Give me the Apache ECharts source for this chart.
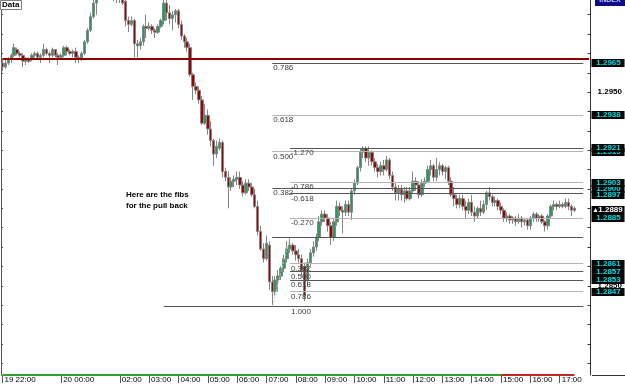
<!DOCTYPE html>
<html>
<head>
<meta charset="utf-8">
<script src="https://cdn.jsdelivr.net/npm/echarts@6.0.0/dist/echarts.min.js"></script>
<style>
  html, body { margin: 0; padding: 0; background: #fff; }
  #main { width: 625px; height: 384px; }
</style>
</head>
<body>
<div id="main"></div>
<script>
// 6 minute bars, 19 22:00 -> 20 17:30
const opens = [
  1.2965,1.2963,1.2965,1.2967,1.2969,1.2972,1.2970,1.2969,1.2966,1.2967,
  1.2967,1.2969,1.2970,1.2968,1.2969,1.2972,1.2970,1.2969,1.2972,1.2969,
  1.2968,1.2969,1.2973,1.2971,1.2970,1.2971,1.2968,1.2967,1.2970,1.2976,
  1.2982,1.2989,1.2996,1.3001,1.3003,1.3000,1.3002,1.3001,1.3000,1.2999,
  1.3000,1.2999,1.2997,1.2987,1.2985,1.2987,1.2975,1.2974,1.2976,1.2984,
  1.2983,1.2984,1.2982,1.2981,1.2984,1.2987,1.2996,1.2991,1.2988,1.2990,
  1.2992,1.2985,1.2979,1.2976,1.2973,1.2959,1.2953,1.2951,1.2946,1.2934,
  1.2938,1.2931,1.2925,1.2918,1.2921,1.2924,1.2909,1.2906,1.2901,1.2904,
  1.2905,1.2906,1.2902,1.2898,1.2903,1.2901,1.2897,1.2891,1.2878,1.2869,
  1.2864,1.2871,1.2852,1.2847,1.2853,1.2855,1.2859,1.2864,1.2869,1.2871,
  1.2868,1.2866,1.2864,1.2860,1.2853,1.2862,1.2867,1.2870,1.2875,1.2883,
  1.2887,1.2885,1.2881,1.2875,1.2883,1.2891,1.2889,1.2888,1.2892,1.2888,
  1.2899,1.2903,1.2911,1.2919,1.2921,1.2916,1.2919,1.2914,1.2911,1.2909,
  1.2912,1.2910,1.2915,1.2907,1.2901,1.2898,1.2900,1.2897,1.2899,1.2895,
  1.2899,1.2904,1.2902,1.2897,1.2903,1.2904,1.2910,1.2912,1.2906,1.2910,
  1.2912,1.2909,1.2911,1.2904,1.2897,1.2895,1.2892,1.2895,1.2891,1.2889,
  1.2893,1.2888,1.2886,1.2890,1.2888,1.2892,1.2898,1.2896,1.2893,1.2894,
  1.2891,1.2889,1.2885,1.2886,1.2884,1.2885,1.2883,1.2885,1.2883,1.2884,
  1.2881,1.2885,1.2887,1.2885,1.2886,1.2883,1.2881,1.2886,1.2891,1.2892,
  1.2891,1.2892,1.2891,1.2893,1.2891,1.2890
]
const closes = [
  1.2963,1.2965,1.2967,1.2969,1.2973,1.2970,1.2969,1.2966,1.2967,1.2966,
  1.2969,1.2970,1.2968,1.2969,1.2972,1.2970,1.2969,1.2972,1.2969,1.2968,
  1.2969,1.2973,1.2971,1.2970,1.2971,1.2968,1.2967,1.2970,1.2976,1.2982,
  1.2989,1.2996,1.3001,1.3003,1.3000,1.3002,1.3001,1.3000,1.2999,1.3000,
  1.2999,1.2996,1.2987,1.2985,1.2987,1.2975,1.2974,1.2976,1.2984,1.2983,
  1.2984,1.2982,1.2981,1.2984,1.2987,1.2996,1.2991,1.2988,1.2990,1.2992,
  1.2985,1.2979,1.2976,1.2973,1.2959,1.2953,1.2951,1.2946,1.2934,1.2938,
  1.2931,1.2925,1.2918,1.2922,1.2924,1.2909,1.2906,1.2901,1.2904,1.2905,
  1.2906,1.2902,1.2898,1.2903,1.2901,1.2897,1.2891,1.2878,1.2869,1.2864,
  1.2872,1.2852,1.2847,1.2853,1.2855,1.2859,1.2864,1.2869,1.2871,1.2868,
  1.2866,1.2864,1.2858,1.2845,1.2862,1.2867,1.2870,1.2875,1.2883,1.2887,
  1.2885,1.2881,1.2875,1.2883,1.2891,1.2889,1.2888,1.2892,1.2888,1.2899,
  1.2903,1.2911,1.2919,1.2921,1.2916,1.2919,1.2914,1.2911,1.2909,1.2912,
  1.2910,1.2915,1.2907,1.2901,1.2898,1.2900,1.2897,1.2899,1.2895,1.2899,
  1.2904,1.2902,1.2897,1.2903,1.2904,1.2910,1.2912,1.2906,1.2910,1.2912,
  1.2909,1.2911,1.2904,1.2897,1.2895,1.2892,1.2895,1.2891,1.2889,1.2893,
  1.2888,1.2886,1.2890,1.2888,1.2892,1.2898,1.2896,1.2893,1.2894,1.2891,
  1.2889,1.2885,1.2886,1.2884,1.2885,1.2883,1.2885,1.2883,1.2884,1.2881,
  1.2885,1.2887,1.2885,1.2886,1.2883,1.2881,1.2886,1.2891,1.2892,1.2891,
  1.2892,1.2891,1.2893,1.2891,1.2889,1.2889
]
const highs = [
  1.2967,1.2967,1.2968,1.2970,1.2975,1.2973,1.2971,1.2970,1.2968,1.2968,
  1.2970,1.2971,1.2971,1.2970,1.2975,1.2973,1.2971,1.2973,1.2972,1.2970,
  1.2970,1.2974,1.2974,1.2972,1.2972,1.2973,1.2969,1.2971,1.2977,1.2983,
  1.2991,1.2998,1.3003,1.3006,1.3005,1.3004,1.3004,1.3003,1.3002,1.3001,
  1.3001,1.3000,1.2998,1.2989,1.2989,1.2988,1.2977,1.2978,1.2985,1.2990,
  1.2986,1.2985,1.2983,1.2985,1.2988,1.2999,1.29994,1.2995,1.2992,1.2993,
  1.2993,1.2987,1.2980,1.2978,1.2975,1.2960,1.2955,1.2953,1.2948,1.2944,
  1.2941,1.2935,1.2926,1.2925,1.2926,1.2925,1.2911,1.2909,1.2906,1.2907,
  1.2909,1.2909,1.2904,1.2905,1.2905,1.2903,1.2900,1.2894,1.2881,1.2872,
  1.2876,1.2873,1.2855,1.2855,1.2858,1.2860,1.2866,1.2873,1.2875,1.2872,
  1.2871,1.2869,1.2866,1.2862,1.2864,1.2869,1.2873,1.2877,1.2886,1.2889,
  1.2889,1.2887,1.2883,1.2885,1.2894,1.2893,1.2891,1.2894,1.2894,1.2900,
  1.2905,1.2912,1.2921,1.2922,1.2922,1.2922,1.2920,1.2916,1.2913,1.2914,
  1.2915,1.2917,1.2916,1.2909,1.2903,1.2902,1.2902,1.2901,1.2901,1.2901,
  1.2909,1.2906,1.2904,1.2905,1.2906,1.2912,1.2915,1.2913,1.2916,1.2914,
  1.2913,1.2912,1.2912,1.2906,1.2901,1.2897,1.2897,1.2897,1.2894,1.2895,
  1.2897,1.2891,1.2891,1.2894,1.2894,1.2899,1.2901,1.2897,1.2896,1.2895,
  1.2893,1.2890,1.2888,1.2887,1.2886,1.2886,1.2887,1.2886,1.2885,1.2885,
  1.2886,1.2888,1.2888,1.2887,1.2887,1.2884,1.2887,1.2892,1.2894,1.2893,
  1.2894,1.2893,1.2895,1.2895,1.2892,1.2891
]
const lows = [
  1.2961,1.2962,1.2964,1.2965,1.2968,1.2969,1.2968,1.2963,1.2964,1.2965,
  1.2966,1.2968,1.2967,1.2965,1.2968,1.2969,1.2965,1.2968,1.2968,1.2964,
  1.2967,1.2968,1.2969,1.2969,1.2968,1.2965,1.2965,1.2966,1.2969,1.2975,
  1.2981,1.2988,1.2990,1.2999,1.2999,1.2999,1.2999,1.2998,1.2997,1.2996,
  1.2996,1.2995,1.2984,1.2981,1.2984,1.2968,1.2968,1.2972,1.2974,1.2978,
  1.2982,1.2980,1.2978,1.2980,1.2983,1.2985,1.2987,1.2985,1.2982,1.2986,
  1.2983,1.2977,1.2973,1.2971,1.2958,1.2946,1.2949,1.2944,1.2933,1.2933,
  1.2928,1.2922,1.2912,1.2916,1.2920,1.2906,1.2904,1.2890,1.2899,1.2901,
  1.2902,1.2900,1.2896,1.2897,1.2899,1.2896,1.2890,1.2876,1.2868,1.2862,
  1.2863,1.2848,1.2839,1.2845,1.2847,1.2853,1.2857,1.2862,1.2867,1.2866,
  1.2863,1.2862,1.2855,1.2842,1.2850,1.2860,1.2865,1.2868,1.2873,1.2881,
  1.2883,1.2878,1.2871,1.2873,1.2881,1.2886,1.2877,1.2886,1.2886,1.2884,
  1.2897,1.2902,1.2909,1.2916,1.2914,1.2912,1.2912,1.2909,1.2906,1.2907,
  1.2907,1.2909,1.2905,1.2899,1.2894,1.2894,1.2894,1.2893,1.2894,1.2894,
  1.2898,1.2899,1.2895,1.2896,1.2901,1.2903,1.2907,1.2904,1.2904,1.2907,
  1.2907,1.2905,1.2902,1.2896,1.2891,1.2890,1.2890,1.2889,1.2885,1.2887,
  1.2886,1.2883,1.2885,1.2886,1.2887,1.2889,1.2894,1.2891,1.2891,1.2889,
  1.2887,1.2883,1.2883,1.2882,1.2882,1.2881,1.2882,1.2880,1.2881,1.2879,
  1.2879,1.2883,1.2883,1.2883,1.2882,1.2878,1.2879,1.2885,1.2889,1.2889,
  1.2890,1.2890,1.2890,1.2889,1.2886,1.2888
]

const barCount = 201
const timeLabelBars = [0, 20, 40, 50, 60, 70, 80, 90, 100, 110, 120, 130, 140, 150, 160, 170, 180, 190]
const timeLabels = ['19 22:00', '20 00:00', '02:00', '03:00', '04:00', '05:00', '06:00', '07:00', '08:00',
  '09:00', '10:00', '11:00', '12:00', '13:00', '14:00', '15:00', '16:00', '17:00']

const priceMin = 1.28039
const priceMax = 1.29976
const tickValues = [1.281, 1.282, 1.283, 1.284, 1.285, 1.286, 1.287, 1.288, 1.289, 1.290,
  1.291, 1.292, 1.293, 1.294, 1.295, 1.296, 1.297, 1.298, 1.299]
const axisLabelValues = [1.2850, 1.2900, 1.2950]
// boxed prices on the right scale (drawn in this order, later ones on top)
const priceTags = [1.2965, 1.2938, 1.2919, 1.2921, 1.2900, 1.2903, 1.2897, 1.2885, 1.2861, 1.2857, 1.2847, 1.2853]
const bidPrice = 1.2889

// fibonacci: big drop and the pull back
const fib1High = 1.29994
const fib1Low = 1.28393
const fib1Levels = [1, 0.786, 0.618, 0.5, 0.382]
const fib2High = 1.28753
const fib2Low = 1.28393
const fib2Levels = [-1.27, -0.786, -0.618, -0.27, 0.382, 0.5, 0.618, 0.786, 1]
const fib1HighBar = 55
const lowBar = 92
const fib2HighBar = 98
const fibEndBar = 198
const resistance = 1.2967
const sessionBars = [0, 170, 195]

const lightLevels = ['1:0.618', '1:0.5', '2:-0.786', '2:-0.27', '2:0.382', '2:0.786']
const darkGray = '#555555'
const lightGray = '#b4b4b4'

const chart = echarts.init(document.getElementById('main'))

const candles = opens.map((o, i) => [o, closes[i], lows[i], highs[i]])
const categories = Array.from({ length: barCount }, (_, i) => String(i))

function fibLine (price, from, text, color) {
  return [
    {
      coord: [from, price],
      lineStyle: { color: color, width: 1, type: 'solid' },
      label: { show: !!text, formatter: text }
    },
    { coord: [fibEndBar, price] }
  ]
}

const marks = []
// red level across the whole chart
marks.push([
  { coord: [0, resistance], lineStyle: { color: '#8b0000', width: 2, type: 'solid' } },
  { coord: [barCount - 1, resistance] }
])
fib1Levels.forEach(r => {
  const p = fib1Low + r * (fib1High - fib1Low)
  marks.push(fibLine(p, lowBar, r.toFixed(3), lightLevels.includes('1:' + r) ? lightGray : darkGray))
})
marks.push(fibLine(fib1Low, fib1HighBar, '', darkGray))
fib2Levels.forEach(r => {
  const p = fib2High - r * (fib2High - fib2Low)
  marks.push(fibLine(p, fib2HighBar, r.toFixed(3), lightLevels.includes('2:' + r) ? lightGray : darkGray))
})
marks.push(fibLine(fib2High, lowBar, '', darkGray))
// trend lines of the two fibs
marks.push([
  { coord: [fib1HighBar + 1, fib1High], lineStyle: { color: '#c8c8c8', width: 1, type: [2, 2] } },
  { coord: [lowBar, fib1Low] }
])
marks.push([
  { coord: [lowBar, fib2Low], lineStyle: { color: '#c8c8c8', width: 1, type: [2, 2] } },
  { coord: [fib2HighBar, fib2High] }
])
marks.push([
  { coord: [sessionBars[0], priceMin], lineStyle: { color: '#2ea52e', width: 2, type: 'solid' } },
  { coord: [sessionBars[1], priceMin] }
])
marks.push([
  { coord: [sessionBars[1], priceMin], lineStyle: { color: '#c02828', width: 2, type: 'solid' } },
  { coord: [sessionBars[2], priceMin] }
])

const font = 'Liberation Sans'

const option = {
  animation: false,
  backgroundColor: '#ffffff',
  grid: { left: 1, right: 33, top: 0, bottom: 9, containLabel: false },
  xAxis: {
    type: 'category',
    data: categories,
    boundaryGap: true,
    axisLine: { show: false },
    axisTick: {
      show: true,
      alignWithLabel: true,
      length: 8,
      interval: (i) => timeLabelBars.includes(i),
      lineStyle: { color: '#555' }
    },
    axisLabel: {
      interval: (i) => timeLabelBars.includes(i),
      formatter: (v, i) => timeLabels[timeLabelBars.indexOf(i)],
      align: 'left',
      margin: 1,
      padding: [0, 0, 0, 2],
      fontSize: 8,
      fontFamily: font,
      color: '#000'
    },
    splitLine: { show: false }
  },
  yAxis: [
    {
      type: 'value',
      position: 'left',
      min: priceMin,
      max: priceMax,
      axisLine: { show: true, lineStyle: { color: '#555' } },
      axisTick: { show: true, inside: true, length: 2, customValues: tickValues, lineStyle: { color: '#555' } },
      axisLabel: { show: false },
      splitLine: { show: false }
    },
    {
      type: 'value',
      position: 'right',
      min: priceMin,
      max: priceMax,
      axisLine: { show: true, lineStyle: { color: '#333' } },
      axisTick: { show: true, inside: true, length: 3, customValues: tickValues, lineStyle: { color: '#333' } },
      axisLabel: {
        customValues: axisLabelValues,
        formatter: (v) => v.toFixed(4),
        margin: 7,
        fontSize: 8,
        fontWeight: 'bold',
        fontFamily: font,
        color: '#000'
      },
      splitLine: { show: false }
    }
  ],
  series: [
    {
      type: 'candlestick',
      data: candles,
      barWidth: 3,
      clip: true,
      itemStyle: {
        color: '#1f9e5c',
        color0: '#a00000',
        borderColor: '#858585',
        borderColor0: '#858585',
        borderWidth: 1
      },
      markLine: {
        silent: true,
        animation: false,
        symbol: ['none', 'none'],
        lineStyle: { type: 'solid', width: 1 },
        label: {
          show: false,
          position: 'insideStartBottom',
          distance: 1,
          fontSize: 8,
          fontFamily: font,
          color: '#3a3a3a'
        },
        data: marks
      }
    },
    {
      type: 'custom',
      data: priceTags.map(v => [0, v]),
      z: 10,
      clip: false,
      renderItem: (params, api) => {
        const cs = params.coordSys
        const y = Math.round(api.coord([0, api.value(1)])[1])
        const x = cs.x + cs.width
        return {
          type: 'group',
          children: [
            { type: 'rect', shape: { x: x + 1, y: y - 4, width: 33, height: 8 }, style: { fill: '#000' } },
            {
              type: 'text',
              style: {
                text: api.value(1).toFixed(4), x: x + 18, y: y, align: 'center', verticalAlign: 'middle',
                fill: '#00e0e8', font: 'bold 8px "Liberation Sans"'
              }
            }
          ]
        }
      }
    },
    {
      type: 'custom',
      data: [[0, bidPrice]],
      z: 11,
      clip: false,
      renderItem: (params, api) => {
        const cs = params.coordSys
        const y = Math.round(api.coord([0, api.value(1)])[1])
        const x = cs.x + cs.width
        return {
          type: 'group',
          children: [
            { type: 'rect', shape: { x: x + 1, y: y - 4, width: 33, height: 8 }, style: { fill: '#000' } },
            { type: 'polygon', shape: { points: [[x + 3, y + 2], [x + 7, y + 2], [x + 5, y - 2]] }, style: { fill: '#fff' } },
            {
              type: 'text',
              style: {
                text: api.value(1).toFixed(4), x: x + 20, y: y, align: 'center', verticalAlign: 'middle',
                fill: '#fff', font: 'bold 8px "Liberation Sans"'
              }
            }
          ]
        }
      }
    }
  ],
  graphic: [
    { type: 'rect', shape: { x: 0.5, y: 0.5, width: 21, height: 9 }, style: { fill: '#fff', stroke: '#808080' }, z: 20 },
    { type: 'text', style: { text: 'Data', x: 2, y: 1, font: 'bold 8px "Liberation Sans"', fill: '#000' }, z: 21 },
    { type: 'rect', shape: { x: 595, y: 0, width: 30, height: 6 }, style: { fill: '#0c0c84' }, z: 20 },
    { type: 'text', style: { text: 'INDEX', x: 610, y: -3, align: 'center', font: 'bold 7px "Liberation Sans"', fill: '#c8c8ff' }, z: 21 },
    { type: 'text', style: { text: 'Here are the fibs\nfor the pull back', x: 126, y: 189, lineHeight: 11, font: 'bold 8px "Liberation Sans"', fill: '#000' }, z: 20 },
    { type: 'line', shape: { x1: 592, y1: 375.5, x2: 625, y2: 375.5 }, style: { stroke: '#333', lineWidth: 1 }, z: 20 }
  ]
}

chart.setOption(option)
</script>
</body>
</html>
